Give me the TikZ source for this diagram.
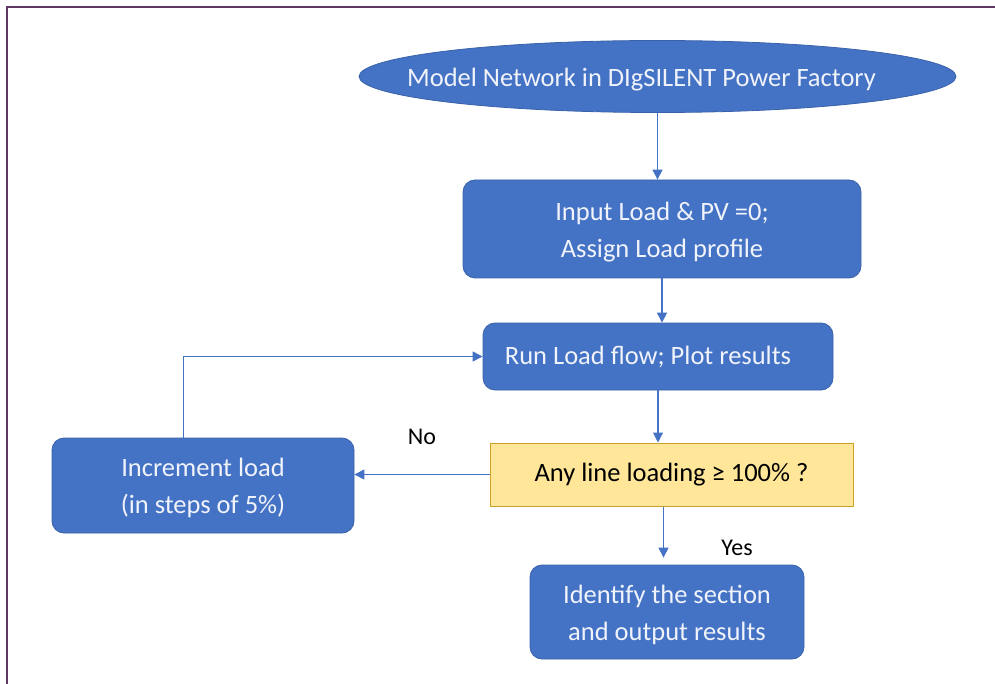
\documentclass[tikz,border=0pt]{standalone}
\usepackage{fontspec}
\setmainfont{Carlito}
\usetikzlibrary{shapes.geometric,arrows.meta}
\definecolor{bl}{HTML}{4472C4}
\definecolor{bord}{HTML}{3A62AA}
\definecolor{yel}{HTML}{FFE699}
\definecolor{yelb}{HTML}{C9A227}
\definecolor{frm}{HTML}{5E3A62}
\definecolor{txtw}{HTML}{F0F3FA}
\tikzset{
  blk/.style={draw=bord, fill=bl, rounded corners=12pt, text=txtw, align=center, line width=0.8pt, inner sep=0pt},
  dec/.style={draw=yelb, fill=yel, text=black, align=center, line width=1pt, inner sep=0pt},
  lbl/.style={text=black, inner sep=0pt},
  conn/.style={draw=bl, line width=1.1pt, -{Triangle[length=10pt,width=10pt]}},
}
\begin{document}
\begin{tikzpicture}[x=1pt,y=-1pt, font=\fontsize{26.5}{37}\selectfont]
\useasboundingbox (0,0) rectangle (995,684);
\draw[frm, line width=2.2pt] (7,684) -- (7,7) -- (995,7);
\node[ellipse, draw=bord, fill=bl, line width=0.8pt, minimum width=597pt, minimum height=72pt, inner sep=0pt] (ell) at (657.5,76.5) {};
\node[text=txtw, inner sep=0pt] (ellt) at (641.5,80) {Model Network in DIgSILENT Power Factory};
\node[blk, minimum width=398pt, minimum height=98pt] (inp) at (662,229) {\rule{0pt}{24pt}Input Load \& PV =0;\\Assign Load profile};
\node[blk, minimum width=350pt, minimum height=67pt] (run) at (658,356.5) {Run Load flow; Plot results\hspace*{20pt}};
\node[dec, minimum width=363pt, minimum height=63pt] (dc) at (671.5,474.5) {Any line loading ≥ 100\% ?};
\node[blk, minimum width=302pt, minimum height=95pt] (inc) at (203,485.5) {\rule{0pt}{24pt}Increment load\\(in steps of 5\%)};
\node[blk, minimum width=274pt, minimum height=94pt] (out) at (667,612) {\rule{0pt}{24pt}Identify the section\\and output results};
\node[lbl, font=\fontsize{24}{28}\selectfont] (no) at (422,437) {No};
\node[lbl, font=\fontsize{24}{28}\selectfont] (yes) at (737,548) {Yes};
\draw[conn] (ell.south) -- (ell.south |- inp.north);
\draw[conn] (inp.south) -- (inp.south |- run.north);
\draw[conn] (run.south) -- (run.south |- dc.north);
\draw[conn] (dc.west) -- (dc.west -| inc.east);
\draw[conn, line width=0.9pt] ([xshift=-20pt]inc.north) |- (run.west);
\draw[conn, shorten >=7pt] ([xshift=-8pt]dc.south) -- ([xshift=-8pt]dc.south |- out.north);
\end{tikzpicture}
\end{document}
